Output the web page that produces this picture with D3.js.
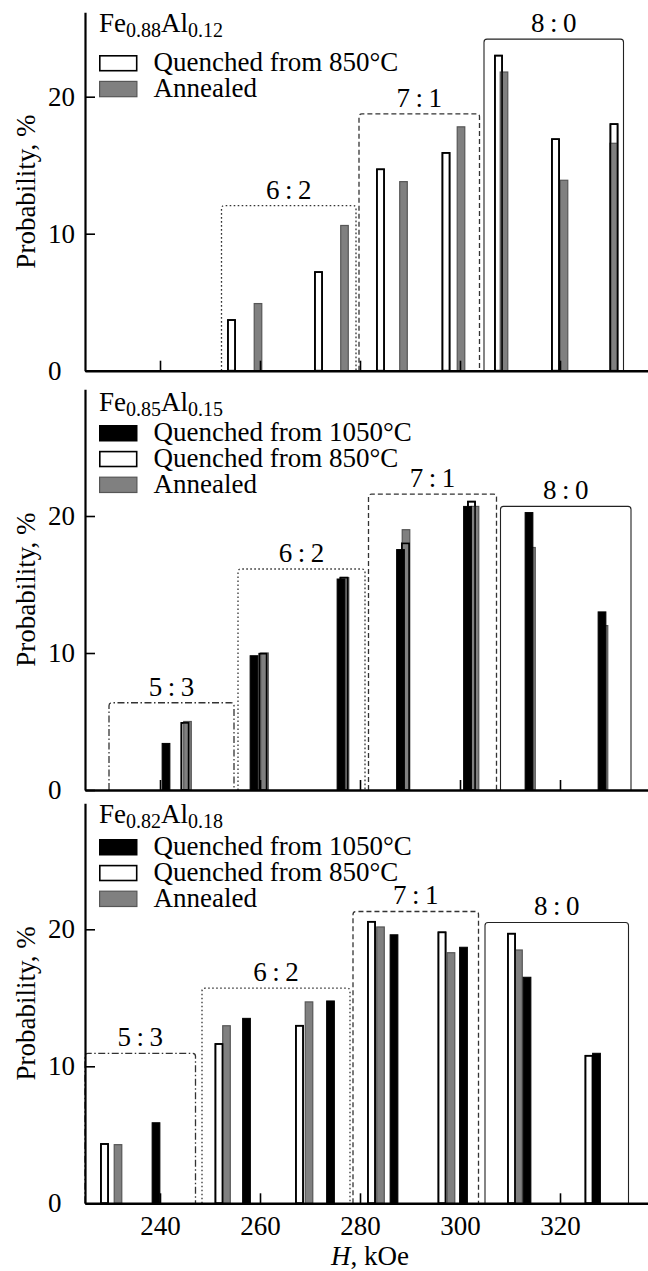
<!DOCTYPE html>
<html>
<head>
<meta charset="utf-8">
<script src="https://cdn.jsdelivr.net/npm/d3@7"></script>
<style>
  html, body { margin: 0; padding: 0; background: #fff; }
  svg { display: block; }
  text { font-family: "Liberation Serif", "Times New Roman", serif; fill: #000; }
</style>
</head>
<body>
<svg id="chart" width="648" height="1271"></svg>
<script>
// ---- data -------------------------------------------------------------
const fieldTicks = [240, 260, 280, 300, 320];   // H, kOe
const probTicks = [0, 10, 20];                 // probability, %

const seriesNames = ["Quenched from 1050°C", "Quenched from 850°C", "Annealed"];

// Fe0.88Al0.12
const a_q850H = [254.3, 271.7, 284.1, 297.2, 307.7, 319.1, 330.8];
const a_q850P = [3.7, 7.2, 14.7, 15.9, 23.0, 16.9, 18.0];
const a_annH  = [259.6, 276.9, 288.7, 300.2, 308.8, 320.8, 330.7];
const a_annP  = [4.9, 10.6, 13.8, 17.8, 21.8, 13.9, 16.6];

// Fe0.85Al0.15
const b_q1050H = [241.2, 258.8, 276.2, 288.1, 301.5, 313.8, 328.4];
const b_q1050P = [3.4, 9.8, 15.4, 17.55, 20.7, 20.25, 13.0];
const b_q850H  = [245.0, 260.6, 276.8, 289.1, 302.3];
const b_q850P  = [4.9, 9.95, 15.5, 18.0, 21.05];
const b_annH   = [245.5, 260.9, 277.0, 289.2, 303.0, 314.3, 328.8];
const b_annP   = [5.0, 10.0, 15.5, 19.0, 20.7, 17.7, 12.0];

// Fe0.82Al0.18
const c_q1050H = [239.2, 257.3, 274.1, 286.8, 300.7, 313.4, 327.3];
const c_q1050P = [5.88, 13.5, 14.77, 19.6, 18.69, 16.5, 10.95];
const c_q850H  = [228.9, 251.8, 267.9, 282.3, 296.4, 310.3, 325.8];
const c_q850P  = [4.33, 11.63, 12.96, 20.55, 19.78, 19.68, 10.77];
const c_annH   = [231.6, 253.3, 269.8, 284.1, 298.2, 311.7];
const c_annP   = [4.28, 12.96, 14.7, 20.17, 18.29, 18.49];

// neighbour configurations (Fe:Al) grouping boxes: label, H from, H to, height %
const boxLabels = ["5:3", "6:2", "7:1", "8:0"];
const a_boxFrom = [null, 252.3, 279.8, 304.8];
const a_boxTo   = [null, 279.2, 303.9, 332.7];
const a_boxTop  = [null, 12.05, 18.75, 24.2];
const b_boxFrom = [229.8, 255.6, 281.7, 308.1];
const b_boxTo   = [254.8, 281.0, 307.3, 334.2];
const b_boxTop  = [6.37, 16.13, 21.6, 20.7];
const c_boxFrom = [225.0, 248.4, 278.6, 305.0];
const c_boxTo   = [247.1, 278.0, 303.7, 333.7];
const c_boxTop  = [10.95, 15.7, 21.3, 20.5];

// ---- layout -----------------------------------------------------------
const svg = d3.select("#chart");
const FONT = 27, SUB = 20;
const pxPerUnit = 13.7;
const x = d3.scaleLinear().domain([225, 337.6]).range([85, 648]);
const barW = 1.75; // kOe

const boxDash = {
  "5:3": "7,2.5,1.5,2.5",
  "6:2": "1.6,2.4",
  "7:1": "5,3",
  "8:0": null
};

const colors = {
  q1050: { fill: "#000", stroke: "#000", sw: 1 },
  q850:  { fill: "#fff", stroke: "#000", sw: 1.6 },
  ann:   { fill: "#808080", stroke: "#565656", sw: 1.2 }
};

const panels = [
  {
    top: 12.3, zero: 370.7, alloy: ["Fe", "0.88", "Al", "0.12"], titleY: 32,
    legend: [["q850", seriesNames[1]], ["ann", seriesNames[2]]], legendY: 55,
    series: { q850: [a_q850H, a_q850P], ann: [a_annH, a_annP] },
    boxes: [a_boxFrom, a_boxTo, a_boxTop], tickLabels: false
  },
  {
    top: 389.3, zero: 790, alloy: ["Fe", "0.85", "Al", "0.15"], titleY: 410.5,
    legend: [["q1050", seriesNames[0]], ["q850", seriesNames[1]], ["ann", seriesNames[2]]], legendY: 425,
    series: { q1050: [b_q1050H, b_q1050P], q850: [b_q850H, b_q850P], ann: [b_annH, b_annP] },
    boxes: [b_boxFrom, b_boxTo, b_boxTop], tickLabels: false
  },
  {
    top: 803.3, zero: 1203.3, alloy: ["Fe", "0.82", "Al", "0.18"], titleY: 822.5,
    legend: [["q1050", seriesNames[0]], ["q850", seriesNames[1]], ["ann", seriesNames[2]]], legendY: 839,
    series: { q1050: [c_q1050H, c_q1050P], q850: [c_q850H, c_q850P], ann: [c_annH, c_annP] },
    boxes: [c_boxFrom, c_boxTo, c_boxTop], tickLabels: true
  }
];

panels.forEach(p => {
  const g = svg.append("g");
  const yMax = (p.zero - p.top) / pxPerUnit;
  const y = d3.scaleLinear().domain([0, yMax]).range([p.zero, p.top]);

  // configuration boxes
  const [bf, bt, bh] = p.boxes;
  boxLabels.forEach((lab, i) => {
    if (bf[i] == null) return;
    const x0 = x(bf[i]), x1 = x(bt[i]), yt = y(bh[i]), yb = y(0);
    g.append("path")
      .attr("d", `M${x0},${yb} V${yt + 3} Q${x0},${yt} ${x0 + 3},${yt} H${x1 - 3} Q${x1},${yt} ${x1},${yt + 3} V${yb}`)
      .attr("fill", "none")
      .attr("stroke", lab === "8:0" ? "#222" : "#333")
      .attr("stroke-width", lab === "8:0" ? 1.1 : 1.3)
      .attr("stroke-dasharray", boxDash[lab]);
    g.append("text")
      .attr("x", (x0 + x1) / 2)
      .attr("y", yt - 7)
      .attr("text-anchor", "middle")
      .attr("font-size", FONT)
      .text(lab.replace(":", "\u2009:\u2009"));
  });

  // bars
  const drawBars = (key, outlineOnly) => {
    const s = p.series[key];
    if (!s) return;
    const data = s[0].map((h, i) => ({ h, v: s[1][i] }));
    const c = colors[key];
    g.append("g").selectAll("rect").data(data).join("rect")
      .attr("x", d => x(d.h - barW / 2) + c.sw / 2)
      .attr("width", d => x(d.h + barW / 2) - x(d.h - barW / 2) - c.sw)
      .attr("y", d => y(d.v))
      .attr("height", d => y(0) - y(d.v))
      .attr("fill", outlineOnly ? "none" : c.fill)
      .attr("stroke", c.stroke)
      .attr("stroke-width", c.sw);
  };
  drawBars("q850", false);
  drawBars("ann", false);
  drawBars("q1050", false);
  drawBars("q850", true);

  // axes
  const yAxis = d3.axisLeft(y).tickValues(probTicks).tickSizeInner(-10).tickSizeOuter(0).tickFormat(d3.format("d"));
  const ya = g.append("g").attr("transform", `translate(${x.range()[0]},0)`).call(yAxis);
  ya.select(".domain").attr("stroke-width", 2.2);
  ya.selectAll(".tick line").attr("stroke-width", 1.6);
  ya.selectAll(".tick text")
    .attr("font-family", "Liberation Serif, serif")
    .attr("font-size", FONT)
    .attr("text-anchor", "start")
    .attr("x", -37);

  const xAxis = d3.axisBottom(x).tickValues(fieldTicks).tickSizeInner(-10).tickSizeOuter(0).tickPadding(13);
  const xa = g.append("g").attr("transform", `translate(0,${p.zero})`).call(xAxis);
  xa.select(".domain").attr("stroke-width", 2.6);
  xa.selectAll(".tick line").attr("stroke-width", 1.6);
  xa.selectAll(".tick text")
    .attr("font-family", "Liberation Serif, serif")
    .attr("font-size", FONT);
  if (!p.tickLabels) xa.selectAll(".tick text").remove();

  // y-axis title
  g.append("text")
    .attr("transform", `translate(35,${(p.zero + p.top) / 2}) rotate(-90)`)
    .attr("text-anchor", "middle")
    .attr("font-size", FONT)
    .text("Probability, %");

  // alloy composition
  const t = g.append("text").attr("x", 99).attr("y", p.titleY).attr("font-size", FONT);
  t.append("tspan").text(p.alloy[0]);
  t.append("tspan").attr("font-size", SUB).attr("dy", 5).text(p.alloy[1]);
  t.append("tspan").attr("dy", -5).text(p.alloy[2]);
  t.append("tspan").attr("font-size", SUB).attr("dy", 5).text(p.alloy[3]);

  // legend
  p.legend.forEach(([key, name], i) => {
    const c = colors[key];
    const yy = p.legendY + i * 25.8;
    g.append("rect")
      .attr("x", 99 + c.sw / 2).attr("y", yy + c.sw / 2)
      .attr("width", 38.5 - c.sw).attr("height", 16.5 - c.sw)
      .attr("fill", c.fill).attr("stroke", c.stroke).attr("stroke-width", c.sw);
    g.append("text")
      .attr("x", 153.5).attr("y", yy + 16.3)
      .attr("font-size", FONT)
      .text(name);
  });
});

// x-axis title
const xt = svg.append("text")
  .attr("x", 370).attr("y", 1265)
  .attr("text-anchor", "middle")
  .attr("font-size", FONT);
xt.append("tspan").attr("font-style", "italic").text("H");
xt.append("tspan").text(", kOe");
</script>
</body>
</html>
